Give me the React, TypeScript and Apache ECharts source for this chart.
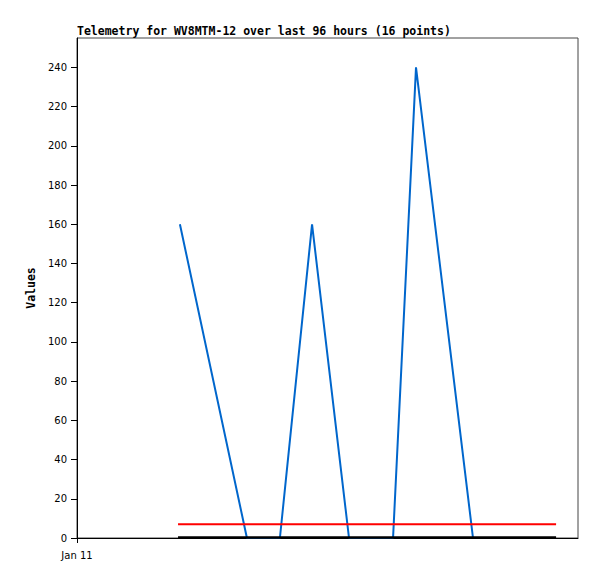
import React, { useEffect, useRef } from "react";
import * as echarts from "echarts";

// hours since Jan 11 00:00
const blueTimes = [4.93, 8.14, 9.72, 11.26, 13.03, 15.14, 16.24, 18.97];
const blueValues = [160, 0, 0, 160, 0, 0, 240, 0];
const redTimes = [4.84, 22.95];
const redValues = [7, 7];
const blackTimes = [4.84, 22.95];
const blackValues = [0.3, 0.3];
const xTickValues = [0];
const xTickLabels = ["Jan 11"];
const title = "Telemetry for WV8MTM-12 over last 96 hours (16 points)";

export default function App() {
  const ref = useRef<HTMLDivElement>(null);
  useEffect(() => {
    if (!ref.current) return;
    const chart = echarts.init(ref.current, null, { renderer: "svg" });
    const zip = (xs: number[], ys: number[]) => xs.map((x, i) => [x, ys[i]]);
    chart.setOption({
      animation: false,
      backgroundColor: "#ffffff",
      title: {
        text: title,
        left: 77,
        top: 25,
        padding: 0,
        textStyle: { fontFamily: "DejaVu Sans Mono", fontSize: 11.5, fontWeight: "bold", color: "#000" },
      },
      grid: { left: 77, right: 19, top: 38, bottom: 41, show: true, borderColor: "#444", borderWidth: 1 },
      xAxis: {
        type: "value",
        min: 0,
        max: 24,
        axisLine: { show: true, onZero: false, lineStyle: { color: "#000", width: 1 } },
        splitLine: { show: false },
        axisTick: { show: true, customValues: xTickValues, length: 5, inside: false, lineStyle: { color: "#000" } },
        axisLabel: {
          customValues: xTickValues,
          formatter: (v: number) => {
            const i = xTickValues.indexOf(v);
            return i >= 0 ? xTickLabels[i] : "";
          },
          fontFamily: "DejaVu Sans",
          fontSize: 10,
          color: "#000",
          margin: 12,
        },
      },
      yAxis: {
        type: "value",
        min: 0,
        max: 255,
        interval: 20,
        name: "Values",
        nameLocation: "middle",
        nameGap: 40,
        nameRotate: 90,
        nameTextStyle: { fontFamily: "DejaVu Sans Mono", fontSize: 11.5, fontWeight: "bold", color: "#000" },
        axisLine: { show: true, lineStyle: { color: "#000", width: 1 } },
        axisTick: { show: true, length: 6, lineStyle: { color: "#000" } },
        splitLine: { show: false },
        axisLabel: { fontFamily: "DejaVu Sans", fontSize: 10, color: "#000", margin: 10, showMaxLabel: false },
      },
      series: [
        {
          type: "line",
          data: zip(blueTimes, blueValues),
          showSymbol: false,
          lineStyle: { color: "#0066cc", width: 2 },
          z: 2,
        },
        {
          type: "line",
          data: zip(redTimes, redValues),
          showSymbol: false,
          lineStyle: { color: "#ff0000", width: 2 },
          z: 3,
        },
        {
          type: "line",
          data: zip(blackTimes, blackValues),
          showSymbol: false,
          lineStyle: { color: "#000", width: 2.5 },
          z: 4,
        },
      ],
    });
    return () => chart.dispose();
  }, []);
  return <div ref={ref} style={{ position: "absolute", left: 0, top: 0, width: 597, height: 579 }} />;
}
